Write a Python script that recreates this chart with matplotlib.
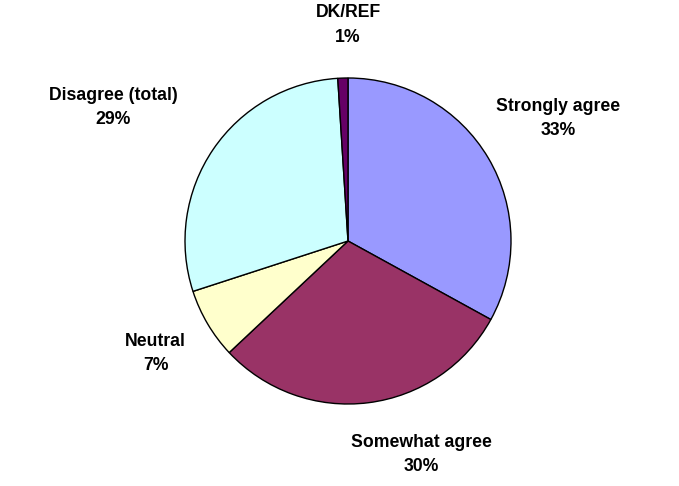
import matplotlib
matplotlib.use("Agg")
import matplotlib.pyplot as plt

categories = ["Strongly agree", "Somewhat agree", "Neutral", "Disagree (total)", "DK/REF"]
values = [33, 30, 7, 29, 1]
colors = ["#9999FF", "#993366", "#FFFFCC", "#CCFFFF", "#660066"]

plt.rcParams['font.family'] = ['Liberation Sans', 'DejaVu Sans']

fig = plt.figure(figsize=(6.79, 4.86), dpi=100)
ax = fig.add_axes([0, 0, 1, 1])
R = 163.0
cx, cy = 348.0, 245.0

ax.pie(values, colors=colors, startangle=90, counterclock=False,
       radius=1.0, center=(0, 0), frame=True,
       wedgeprops=dict(edgecolor='black', linewidth=1.0))
ax.set_xlim(-cx / R, (679 - cx) / R)
ax.set_ylim(-cy / R, (486 - cy) / R)
ax.set_aspect('auto')
ax.axis('off')

label_pos = [(1.29, 0.75), (0.45, -1.31), (-1.18, -0.69), (-1.44, 0.82), (0.0, 1.325)]
for cat, v, (lx, ly) in zip(categories, values, label_pos):
    ax.text(lx, ly, f"{cat}\n{v}%", ha='center', va='center', fontsize=12.7,
            fontweight='bold', linespacing=1.55)

fig.savefig("out.png", dpi=100)
